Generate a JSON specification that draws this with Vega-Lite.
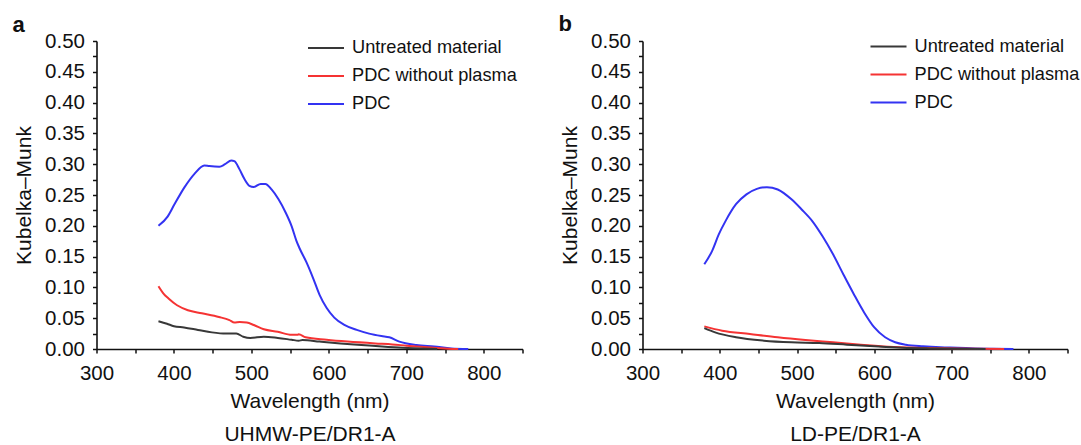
{
  "$schema": "https://vega.github.io/schema/vega-lite/v6.json",
  "background": "white",
  "padding": {"left": 12.5, "top": 12, "right": 0, "bottom": 0},
  "config": {
    "font": "Liberation Sans",
    "view": {"stroke": null},
    "axis": {
      "grid": false,
      "domainColor": "#111",
      "domainWidth": 1.6,
      "tickColor": "#111",
      "tickWidth": 1.5,
      "tickSize": 4,
      "labelFontSize": 20.5,
      "labelColor": "#111",
      "titleFontSize": 21,
      "titleFontWeight": "normal",
      "titleColor": "#111"
    },
    "legend": {
      "orient": "none",
      "title": null,
      "symbolType": "stroke",
      "symbolSize": 1296,
      "symbolStrokeWidth": 2,
      "labelFontSize": 18.2,
      "labelColor": "#111",
      "labelLimit": 400,
      "rowPadding": -12.6,
      "labelOffset": 7,
      "padding": 0
    },
    "title": {"fontSize": 22, "fontWeight": "bold", "anchor": "start", "frame": "bounds", "color": "#111"}
  },
  "spacing": 35,
  "resolve": {"legend": {"color": "independent"}},
  "datasets": {
    "a": [
      {"series": "PDC", "wl": 380, "km": 0.200},
      {"series": "PDC", "wl": 391.8, "km": 0.215},
      {"series": "PDC", "wl": 400.3, "km": 0.234},
      {"series": "PDC", "wl": 413.3, "km": 0.262},
      {"series": "PDC", "wl": 426.2, "km": 0.284},
      {"series": "PDC", "wl": 439.2, "km": 0.298},
      {"series": "PDC", "wl": 445.6, "km": 0.297},
      {"series": "PDC", "wl": 458.6, "km": 0.296},
      {"series": "PDC", "wl": 466, "km": 0.300},
      {"series": "PDC", "wl": 474, "km": 0.306},
      {"series": "PDC", "wl": 478, "km": 0.305},
      {"series": "PDC", "wl": 484.5, "km": 0.292},
      {"series": "PDC", "wl": 491, "km": 0.276},
      {"series": "PDC", "wl": 497.4, "km": 0.265},
      {"series": "PDC", "wl": 503, "km": 0.263},
      {"series": "PDC", "wl": 512, "km": 0.268},
      {"series": "PDC", "wl": 518, "km": 0.268},
      {"series": "PDC", "wl": 526, "km": 0.259},
      {"series": "PDC", "wl": 535, "km": 0.243},
      {"series": "PDC", "wl": 544, "km": 0.222},
      {"series": "PDC", "wl": 552, "km": 0.199},
      {"series": "PDC", "wl": 558, "km": 0.176},
      {"series": "PDC", "wl": 562, "km": 0.164},
      {"series": "PDC", "wl": 571, "km": 0.141},
      {"series": "PDC", "wl": 580, "km": 0.114},
      {"series": "PDC", "wl": 588, "km": 0.088},
      {"series": "PDC", "wl": 597, "km": 0.067},
      {"series": "PDC", "wl": 607, "km": 0.051},
      {"series": "PDC", "wl": 620, "km": 0.039},
      {"series": "PDC", "wl": 636, "km": 0.031},
      {"series": "PDC", "wl": 652, "km": 0.025},
      {"series": "PDC", "wl": 668, "km": 0.021},
      {"series": "PDC", "wl": 678, "km": 0.019},
      {"series": "PDC", "wl": 691, "km": 0.012},
      {"series": "PDC", "wl": 713, "km": 0.0065},
      {"series": "PDC", "wl": 736, "km": 0.004},
      {"series": "PDC", "wl": 758, "km": 0.001},
      {"series": "PDC", "wl": 780, "km": 0.0},
      {"series": "PDC without plasma", "wl": 380, "km": 0.102},
      {"series": "PDC without plasma", "wl": 386.5, "km": 0.090},
      {"series": "PDC without plasma", "wl": 393, "km": 0.082},
      {"series": "PDC without plasma", "wl": 404, "km": 0.071},
      {"series": "PDC without plasma", "wl": 418, "km": 0.063},
      {"series": "PDC without plasma", "wl": 436, "km": 0.058},
      {"series": "PDC without plasma", "wl": 458, "km": 0.052},
      {"series": "PDC without plasma", "wl": 471.6, "km": 0.047},
      {"series": "PDC without plasma", "wl": 478, "km": 0.043},
      {"series": "PDC without plasma", "wl": 485, "km": 0.044},
      {"series": "PDC without plasma", "wl": 494, "km": 0.043},
      {"series": "PDC without plasma", "wl": 503, "km": 0.039},
      {"series": "PDC without plasma", "wl": 516, "km": 0.032},
      {"series": "PDC without plasma", "wl": 534, "km": 0.028},
      {"series": "PDC without plasma", "wl": 552, "km": 0.023},
      {"series": "PDC without plasma", "wl": 559, "km": 0.023},
      {"series": "PDC without plasma", "wl": 561, "km": 0.024},
      {"series": "PDC without plasma", "wl": 570, "km": 0.019},
      {"series": "PDC without plasma", "wl": 597, "km": 0.015},
      {"series": "PDC without plasma", "wl": 624, "km": 0.012},
      {"series": "PDC without plasma", "wl": 660, "km": 0.009},
      {"series": "PDC without plasma", "wl": 682, "km": 0.0075},
      {"series": "PDC without plasma", "wl": 700, "km": 0.0054},
      {"series": "PDC without plasma", "wl": 727, "km": 0.0027},
      {"series": "PDC without plasma", "wl": 754, "km": 0.0005},
      {"series": "PDC without plasma", "wl": 767, "km": 0.0},
      {"series": "Untreated material", "wl": 380, "km": 0.045},
      {"series": "Untreated material", "wl": 391, "km": 0.041},
      {"series": "Untreated material", "wl": 400, "km": 0.037},
      {"series": "Untreated material", "wl": 413, "km": 0.035},
      {"series": "Untreated material", "wl": 431, "km": 0.031},
      {"series": "Untreated material", "wl": 449, "km": 0.027},
      {"series": "Untreated material", "wl": 467, "km": 0.025},
      {"series": "Untreated material", "wl": 480.5, "km": 0.025},
      {"series": "Untreated material", "wl": 489.5, "km": 0.020},
      {"series": "Untreated material", "wl": 498.5, "km": 0.018},
      {"series": "Untreated material", "wl": 516, "km": 0.020},
      {"series": "Untreated material", "wl": 534, "km": 0.018},
      {"series": "Untreated material", "wl": 552, "km": 0.015},
      {"series": "Untreated material", "wl": 561, "km": 0.0135},
      {"series": "Untreated material", "wl": 566, "km": 0.0146},
      {"series": "Untreated material", "wl": 588, "km": 0.012},
      {"series": "Untreated material", "wl": 615, "km": 0.009},
      {"series": "Untreated material", "wl": 642, "km": 0.0065},
      {"series": "Untreated material", "wl": 668.7, "km": 0.004},
      {"series": "Untreated material", "wl": 695.6, "km": 0.002},
      {"series": "Untreated material", "wl": 718, "km": 0.001},
      {"series": "Untreated material", "wl": 740, "km": 0.0}
    ],
    "b": [
      {"series": "PDC", "wl": 380, "km": 0.1375},
      {"series": "PDC", "wl": 390, "km": 0.159},
      {"series": "PDC", "wl": 398.7, "km": 0.186},
      {"series": "PDC", "wl": 407.6, "km": 0.208},
      {"series": "PDC", "wl": 421, "km": 0.235},
      {"series": "PDC", "wl": 434.5, "km": 0.251},
      {"series": "PDC", "wl": 448, "km": 0.260},
      {"series": "PDC", "wl": 461, "km": 0.2627},
      {"series": "PDC", "wl": 475, "km": 0.259},
      {"series": "PDC", "wl": 492.8, "km": 0.243},
      {"series": "PDC", "wl": 506, "km": 0.2265},
      {"series": "PDC", "wl": 519.7, "km": 0.2077},
      {"series": "PDC", "wl": 533, "km": 0.183},
      {"series": "PDC", "wl": 546.6, "km": 0.1537},
      {"series": "PDC", "wl": 560, "km": 0.121},
      {"series": "PDC", "wl": 573.5, "km": 0.089},
      {"series": "PDC", "wl": 587, "km": 0.059},
      {"series": "PDC", "wl": 600, "km": 0.035},
      {"series": "PDC", "wl": 614, "km": 0.019},
      {"series": "PDC", "wl": 627, "km": 0.011},
      {"series": "PDC", "wl": 640.8, "km": 0.007},
      {"series": "PDC", "wl": 663, "km": 0.0043},
      {"series": "PDC", "wl": 685.6, "km": 0.0027},
      {"series": "PDC", "wl": 708, "km": 0.002},
      {"series": "PDC", "wl": 730.5, "km": 0.001},
      {"series": "PDC", "wl": 753, "km": 0.0005},
      {"series": "PDC", "wl": 780, "km": 0.0},
      {"series": "PDC without plasma", "wl": 380, "km": 0.0367},
      {"series": "PDC without plasma", "wl": 403, "km": 0.0297},
      {"series": "PDC without plasma", "wl": 439, "km": 0.0243},
      {"series": "PDC without plasma", "wl": 475, "km": 0.019},
      {"series": "PDC without plasma", "wl": 510.8, "km": 0.0146},
      {"series": "PDC without plasma", "wl": 546.6, "km": 0.0108},
      {"series": "PDC without plasma", "wl": 582.5, "km": 0.007},
      {"series": "PDC without plasma", "wl": 618, "km": 0.0038},
      {"series": "PDC without plasma", "wl": 654, "km": 0.002},
      {"series": "PDC without plasma", "wl": 708, "km": 0.001},
      {"series": "PDC without plasma", "wl": 768, "km": 0.0},
      {"series": "Untreated material", "wl": 380, "km": 0.034},
      {"series": "Untreated material", "wl": 394, "km": 0.027},
      {"series": "Untreated material", "wl": 421, "km": 0.019},
      {"series": "Untreated material", "wl": 457, "km": 0.0135},
      {"series": "Untreated material", "wl": 492.8, "km": 0.0108},
      {"series": "Untreated material", "wl": 528.7, "km": 0.0097},
      {"series": "Untreated material", "wl": 564.5, "km": 0.007},
      {"series": "Untreated material", "wl": 600, "km": 0.0043},
      {"series": "Untreated material", "wl": 636, "km": 0.002},
      {"series": "Untreated material", "wl": 672, "km": 0.001},
      {"series": "Untreated material", "wl": 708, "km": 0.0005},
      {"series": "Untreated material", "wl": 744, "km": 0.0}
    ]
  },
  "hconcat": [
    {
      "title": {"text": "a", "offset": -8, "dx": -1},
      "width": 426,
      "height": 308,
      "data": {"name": "a"},
      "mark": {"type": "line", "strokeWidth": 2, "interpolate": "monotone"},
      "encoding": {
        "x": {
          "field": "wl", "type": "quantitative",
          "scale": {"domain": [300, 850], "nice": false, "zero": false},
          "axis": {
            "values": [300, 350, 400, 450, 500, 550, 600, 650, 700, 750, 800, 850],
            "labelExpr": "datum.value % 100 == 0 ? datum.label : ''",
            "labelFlush": false, "labelPadding": 10, "titlePadding": 7, "titleLineHeight": 33,
            "title": ["Wavelength (nm)", "UHMW-PE/DR1-A"]
          }
        },
        "y": {
          "field": "km", "type": "quantitative",
          "scale": {"domain": [0, 0.5], "nice": false},
          "axis": {
            "values": [0, 0.025, 0.05, 0.075, 0.1, 0.125, 0.15, 0.175, 0.2, 0.225, 0.25, 0.275, 0.3, 0.325, 0.35, 0.375, 0.4, 0.425, 0.45, 0.475, 0.5],
            "labelExpr": "round(datum.value * 1000) % 50 == 0 ? format(datum.value, '.2f') : ''",
            "labelFlush": false, "labelPadding": 8, "titlePadding": 10,
            "title": "Kubelka–Munk"
          }
        },
        "color": {
          "field": "series", "type": "nominal",
          "scale": {"domain": ["Untreated material", "PDC without plasma", "PDC"], "range": ["#383838", "#f53333", "#3333f2"]},
          "legend": {"legendX": 210.5, "legendY": -12}
        }
      }
    },
    {
      "title": {"text": "b", "offset": -8, "dx": -1},
      "width": 425,
      "height": 308,
      "data": {"name": "b"},
      "mark": {"type": "line", "strokeWidth": 2, "interpolate": "monotone"},
      "encoding": {
        "x": {
          "field": "wl", "type": "quantitative",
          "scale": {"domain": [300, 850], "nice": false, "zero": false},
          "axis": {
            "values": [300, 350, 400, 450, 500, 550, 600, 650, 700, 750, 800, 850],
            "labelExpr": "datum.value % 100 == 0 ? datum.label : ''",
            "labelFlush": false, "labelPadding": 10, "titlePadding": 7, "titleLineHeight": 33,
            "title": ["Wavelength (nm)", "LD-PE/DR1-A"]
          }
        },
        "y": {
          "field": "km", "type": "quantitative",
          "scale": {"domain": [0, 0.5], "nice": false},
          "axis": {
            "values": [0, 0.025, 0.05, 0.075, 0.1, 0.125, 0.15, 0.175, 0.2, 0.225, 0.25, 0.275, 0.3, 0.325, 0.35, 0.375, 0.4, 0.425, 0.45, 0.475, 0.5],
            "labelExpr": "round(datum.value * 1000) % 50 == 0 ? format(datum.value, '.2f') : ''",
            "labelFlush": false, "labelPadding": 8, "titlePadding": 10,
            "title": "Kubelka–Munk"
          }
        },
        "color": {
          "field": "series", "type": "nominal",
          "scale": {"domain": ["Untreated material", "PDC without plasma", "PDC"], "range": ["#383838", "#f53333", "#3333f2"]},
          "legend": {"legendX": 227, "legendY": -13.5}
        }
      }
    }
  ]
}
